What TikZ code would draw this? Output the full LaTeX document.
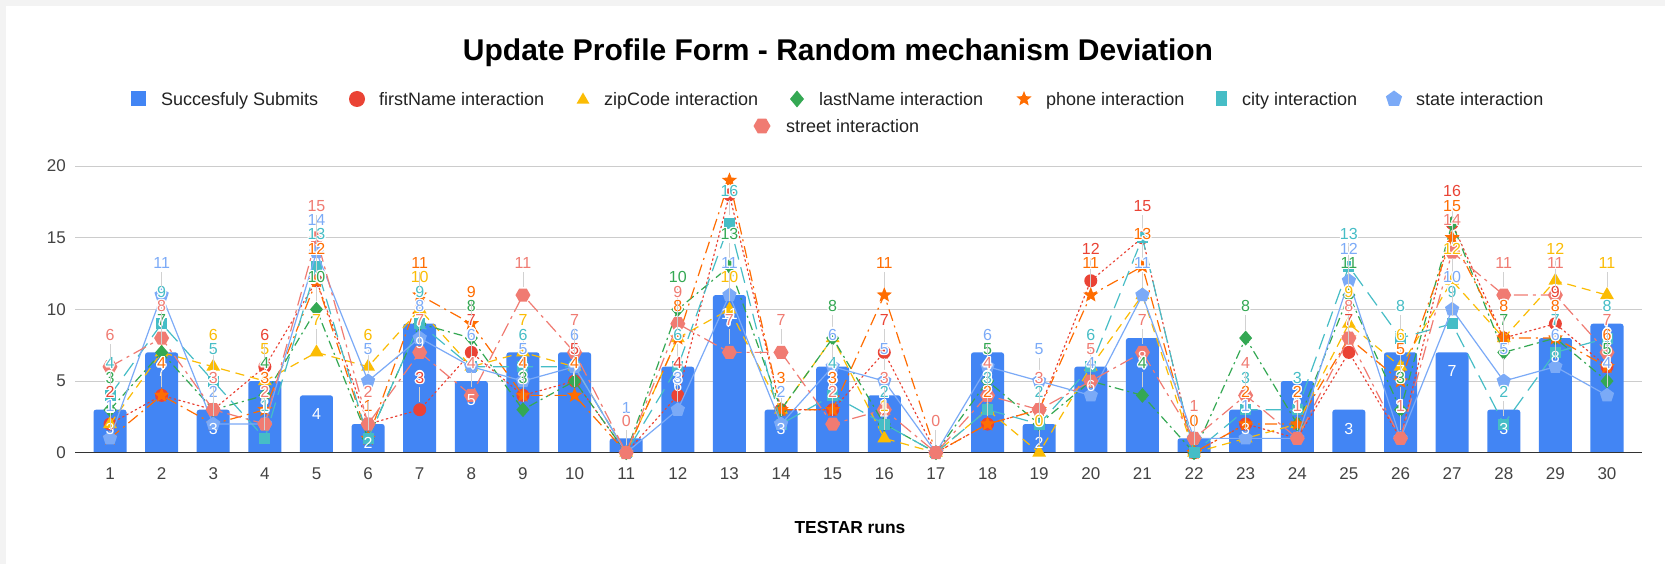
\documentclass[tikz,border=0pt]{standalone}
\usepackage{fontspec}
\setmainfont{Liberation Sans}
\usetikzlibrary{shapes.geometric}

\definecolor{cbar}{HTML}{4285F4}
\definecolor{cfirst}{HTML}{EA4335}
\definecolor{czip}{HTML}{FBBC04}
\definecolor{clast}{HTML}{34A853}
\definecolor{cphone}{HTML}{FF6D01}
\definecolor{ccity}{HTML}{46BDC6}
\definecolor{cstate}{HTML}{7BAAF7}
\definecolor{cstreet}{HTML}{F07B72}
\definecolor{cgrid}{HTML}{CCCCCC}
\definecolor{caxis}{HTML}{333333}
\definecolor{ctext}{HTML}{222222}
\definecolor{cframe}{HTML}{F3F3F3}

% values per run (1..30)
\def\dataBar{3,7,3,5,4,2,9,5,7,7,1,6,11,3,6,4,0,7,2,6,8,1,3,5,3,7,7,3,8,9}
\def\dataFirst{2,4,3,6,12,2,3,7,4,5,0,4,18,3,3,7,0,2,3,12,15,0,2,1,7,1,16,8,9,6}
\def\dataZip{2,7,6,5,7,6,10,6,7,6,0,8,10,3,8,1,0,3,0,6,11,0,1,2,9,6,12,8,12,11}
\def\dataLast{3,7,3,4,10,1,9,8,3,5,0,10,13,3,8,2,0,5,2,5,4,0,8,2,11,3,16,7,8,5}
\def\dataPhone{1,4,2,3,12,1,11,9,4,4,0,8,19,3,3,11,0,2,3,11,13,0,2,2,8,5,15,8,8,6}
\def\dataCity{4,9,5,1,13,1,9,6,6,6,0,6,16,2,4,2,0,3,2,6,15,0,3,3,13,8,9,2,7,8}
\def\dataState{1,11,2,2,14,5,8,6,5,6,0,3,11,2,6,5,0,6,5,4,11,1,1,1,12,1,10,5,6,4}
\def\dataStreet{6,8,3,2,15,2,7,4,11,7,0,9,7,7,2,3,0,4,3,5,7,1,4,1,8,1,14,11,11,7}

% x of run i, y of value v (px, y downwards)
\newcommand\runx[1]{110+51.62*(#1-1)}
\newcommand\valy[1]{452.7-14.33*(#1)}

% one line series: points, connecting line, markers
\newcommand\drawseries[4]{%
  \foreach \v [count=\i] in #2 {
    \coordinate (#1-\i) at ({\runx{\i}},{\valy{\v}});
  }
  \draw[#3] (#1-1) \foreach \j in {2,...,30}{ -- (#1-\j)};
  \foreach \j in {1,...,30} \node[#4] (#1m-\j) at (#1-\j) {};
}

% value labels of a series, with leader stub and white halo
\newcommand\labelseries[3]{%
  \foreach \v [count=\i] in #2 {
    \ifnum\v<18
      \draw[leader] ([yshift=8pt]#1-\i) -- ([yshift=23pt]#1-\i);
      \coordinate (#1p-\i) at ([yshift=32pt]#1-\i);
      \foreach \dx/\dy in {-1.3/0,1.3/0,0/-1.3,0/1.3,-1/-1,1/-1,-1/1,1/1}
        \node[vlbl,text=white] at ([xshift=\dx pt,yshift=\dy pt]#1p-\i) {\v};
      \node[vlbl,text=#3] (#1t-\i) at (#1p-\i) {\v};
    \fi
  }
}

\begin{document}
\begin{tikzpicture}[x=1pt,y=-1pt,
  grid/.style={cgrid,line width=1pt},
  leader/.style={black!18,line width=0.9pt},
  vlbl/.style={font=\fontsize{16}{18}\selectfont,inner sep=0pt},
  ticklbl/.style={font=\fontsize{17}{20}\selectfont,text=ctext!85,inner sep=0pt},
  legtxt/.style={font=\fontsize{18}{21}\selectfont,text=ctext,inner sep=0pt,anchor=base west},
  mk/.style={inner sep=0pt,outer sep=0pt,draw=none},
  ln/.style={line width=1.2pt,line join=round},
  lfirst/.style={ln,cfirst,dash pattern=on 1.6pt off 3.2pt,line cap=round},
  lzip/.style={ln,czip,dash pattern=on 9pt off 6pt},
  llast/.style={ln,clast,dash pattern=on 9pt off 4pt on 2pt off 4pt},
  lphone/.style={ln,cphone,dash pattern=on 12pt off 5pt on 2pt off 5pt},
  lcity/.style={ln,ccity,dash pattern=on 16pt off 8pt},
  lstate/.style={ln,cstate},
  lstreet/.style={ln,cstreet,dash pattern=on 14pt off 5pt on 3pt off 5pt},
  mfirst/.style={mk,circle,minimum size=13pt,fill=cfirst},
  mzip/.style={mk,regular polygon,regular polygon sides=3,minimum size=16pt,fill=czip},
  mlast/.style={mk,diamond,minimum width=13pt,minimum height=15pt,fill=clast},
  mphone/.style={mk,star,star points=5,star point ratio=2.3,minimum size=16pt,fill=cphone},
  mcity/.style={mk,rectangle,minimum size=11pt,fill=ccity},
  mstate/.style={mk,regular polygon,regular polygon sides=5,minimum size=15pt,fill=cstate},
  mstreet/.style={mk,regular polygon,regular polygon sides=6,minimum size=15pt,fill=cstreet},
]
\useasboundingbox (0,0) rectangle (1665,564);
\fill[cframe] (0,0) rectangle (1665,564);
\fill[white] (6,6) rectangle (1665,564);

% title
\node[font=\bfseries\fontsize{30}{36}\selectfont,text=black] (title) at (838,53)
  {Update Profile Form - Random mechanism Deviation};

% legend
\node[mk,rectangle,minimum size=15pt,fill=cbar] (lg-bar) at (138,99) {};
\node[legtxt] (lt-bar) at (161,105.5) {Succesfuly Submits};
\node[mfirst,minimum size=16pt] (lg-first) at (357,99) {};
\node[legtxt] (lt-first) at (379,105.5) {firstName interaction};
\node[mzip,minimum size=15pt] (lg-zip) at (583,100) {};
\node[legtxt] (lt-zip) at (604,105.5) {zipCode interaction};
\node[mlast,minimum width=14pt,minimum height=17pt] (lg-last) at (797,99) {};
\node[legtxt] (lt-last) at (819,105.5) {lastName interaction};
\node[mphone] (lg-phone) at (1024,99) {};
\node[legtxt] (lt-phone) at (1046,105.5) {phone interaction};
\node[mcity,minimum width=11pt,minimum height=15pt] (lg-city) at (1221,99) {};
\node[legtxt] (lt-city) at (1242,105.5) {city interaction};
\node[mstate,minimum size=17pt] (lg-state) at (1394,99) {};
\node[legtxt] (lt-state) at (1416,105.5) {state interaction};
\node[mstreet,minimum size=17pt] (lg-street) at (762,126) {};
\node[legtxt] (lt-street) at (786,132.5) {street interaction};

% value grid and y labels
\foreach \g in {5,10,15,20} {
  \coordinate (gl-\g) at (75,{\valy{\g}});
  \coordinate (gr-\g) at (1642,{\valy{\g}});
  \draw[grid] (gl-\g) -- (gr-\g);
}
\foreach \g in {0,5,10,15,20}
  \node[ticklbl,anchor=east] (yl-\g) at (66,{\valy{\g}}) {\g};

% bars
\foreach \v [count=\i] in \dataBar {
  \pgfmathsetmacro\bx{\runx{\i}}
  \pgfmathsetmacro\by{\valy{\v}}
  \ifnum\v>0
    \fill[cbar] (\bx-16.5,452.7) [rounded corners=2.5pt] -- (\bx-16.5,\by) -- (\bx+16.5,\by) [sharp corners] -- (\bx+16.5,452.7) -- cycle;
  \fi
}

% axis line and run labels
\coordinate (ax-l) at (75,452.7);
\coordinate (ax-r) at (1642,452.7);
\draw[caxis,line width=1.3pt] (ax-l) -- (ax-r);
\foreach \i in {1,...,30}
  \node[ticklbl] (xl-\i) at ({\runx{\i}},474) {\i};
\node[font=\bfseries\fontsize{17.4}{20}\selectfont,text=black] (xtitle) at (850,528) {TESTAR runs};

% series
\drawseries{fn}{\dataFirst}{lfirst}{mfirst}
\drawseries{zc}{\dataZip}{lzip}{mzip}
\drawseries{ln}{\dataLast}{llast}{mlast}
\drawseries{ph}{\dataPhone}{lphone}{mphone}
\drawseries{ct}{\dataCity}{lcity}{mcity}
\drawseries{st}{\dataState}{lstate}{mstate}
\drawseries{sr}{\dataStreet}{lstreet}{mstreet}

% bar labels
\foreach \v [count=\i] in \dataBar {
  \pgfmathsetmacro\bx{\runx{\i}}
  \pgfmathsetmacro\by{\valy{\v}}
  \ifnum\v>1
    \node[vlbl,text=white] (bl-\i) at (\bx,\by+19) {\v};
  \else\ifnum\v=1
    \node[vlbl,text=cstate] (bl-\i) at (\bx,\by-30) {\v};
  \fi\fi
}

% value labels (later ones drawn on top)
\labelseries{zc}{\dataZip}{czip}
\labelseries{ln}{\dataLast}{clast}
\labelseries{ct}{\dataCity}{ccity}
\labelseries{fn}{\dataFirst}{cfirst}
\labelseries{ph}{\dataPhone}{cphone}
\labelseries{st}{\dataState}{cstate}
\labelseries{sr}{\dataStreet}{cstreet}
\end{tikzpicture}
\end{document}
